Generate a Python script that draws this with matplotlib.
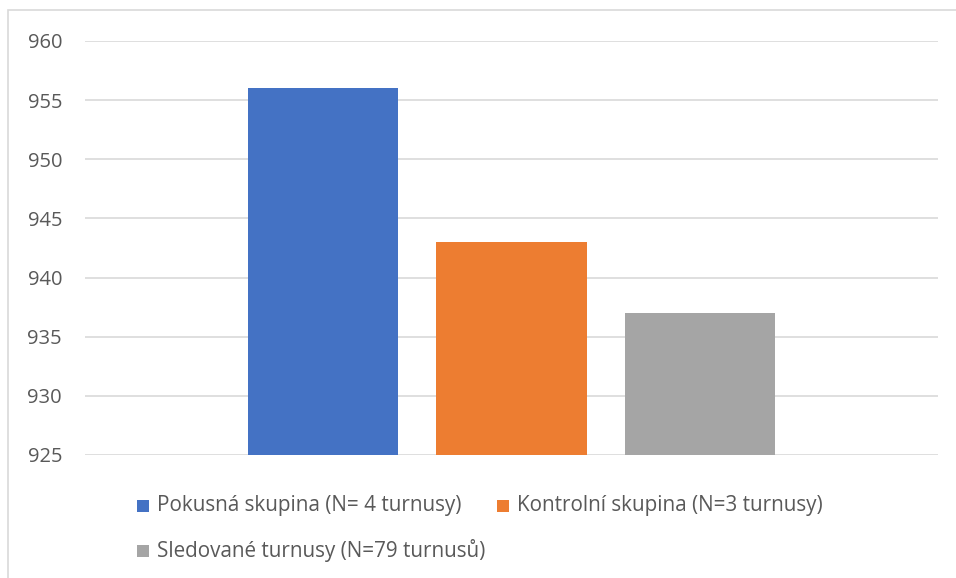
import matplotlib.pyplot as plt
from matplotlib.patches import Rectangle

series = ["Pokusná skupina (N= 4 turnusy)",
          "Kontrolní skupina (N=3 turnusy)",
          "Sledované turnusy (N=79 turnusů)"]
values = [956, 943, 937]
colors = ["#4472C4", "#ED7D31", "#A5A5A5"]
yticks = [925, 930, 935, 940, 945, 950, 955, 960]

plt.rcParams['font.family'] = ['Open Sans', 'DejaVu Sans']
W, H = 956, 578
fig = plt.figure(figsize=(W / 100, H / 100), dpi=100)

# chart frame
fig.patches.append(Rectangle((8 / W, -0.1), 1.2, 1 - 10 / H + 0.1, transform=fig.transFigure,
                             fill=False, edgecolor="#D9D9D9", linewidth=1.2))

ax = fig.add_axes([85 / W, 1 - 455 / H, (938 - 85) / W, (455 - 41) / H])
positions = [0, 1, 2]
ax.bar(positions, [v - yticks[0] for v in values], bottom=yticks[0], width=0.794,
       color=colors, zorder=3)
ax.set_ylim(yticks[0], yticks[-1])
ax.set_xlim(1 - 2.257, 1 + 2.257)
ax.set_yticks(yticks)
ax.set_xticks([])
ax.grid(axis="y", color="#D9D9D9", linewidth=1.2, zorder=0)
for s in ax.spines.values():
    s.set_visible(False)
ax.tick_params(axis="y", length=0, pad=16.5, labelsize=14.5, labelcolor="#595959")

# legend entries
entries = [(137, 506), (497, 506), (137, 551)]
for (x, y), label, c in zip(entries, series, colors):
    fig.patches.append(Rectangle((x / W, 1 - (y + 6) / H), 12 / W, 12 / H,
                                 transform=fig.transFigure, facecolor=c, edgecolor="none"))
    fig.text((x + 20) / W, 1 - y / H, label, fontsize=14.9, color="#595959",
             va="center", ha="left")

fig.savefig("out.png", dpi=100)
